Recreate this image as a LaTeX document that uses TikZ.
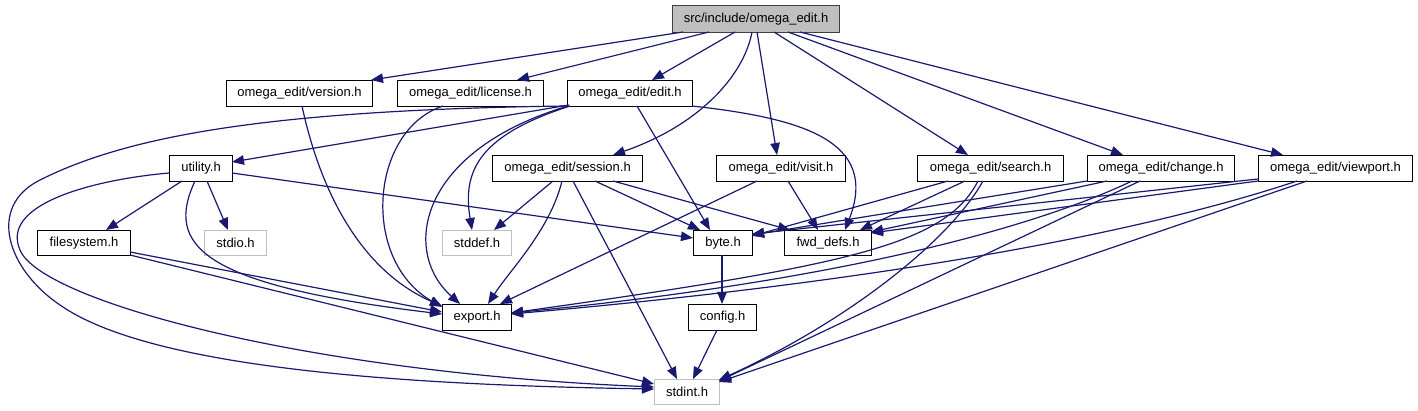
\documentclass[tikz,border=0pt]{standalone}
\usepackage{fontspec}
\setmainfont{Liberation Sans}
\usetikzlibrary{arrows.meta}
\definecolor{edgecol}{HTML}{191970}
\definecolor{topfill}{HTML}{BFBFBF}
\definecolor{greyline}{HTML}{BFBFBF}
\begin{document}
\begin{tikzpicture}[x=1pt,y=-1pt,
  box/.style={draw=black, line width=1.1pt, fill=white, inner sep=0pt, anchor=north west,
    font=\fontsize{13}{15}\selectfont},
  gbox/.style={box, draw=greyline},
  topbox/.style={box, draw=black!75, fill=topfill},
  edge/.style={draw=edgecol, line width=1.2pt, -{Triangle[length=12pt,width=9.5pt]}}]
\useasboundingbox (0,0) rectangle (1418,411);
% nodes
\node[topbox, minimum width=167pt, minimum height=27pt] (top) at (672,5) {src/include/omega\_edit.h};
\node[box, minimum width=146pt, minimum height=26pt] (ver) at (226,80) {omega\_edit/version.h};
\node[box, minimum width=146pt, minimum height=26pt] (lic) at (397,80) {omega\_edit/license.h};
\node[box, minimum width=125pt, minimum height=26pt] (edit) at (567,80) {omega\_edit/edit.h};
\node[box, minimum width=63pt, minimum height=26pt] (util) at (169,155) {utility.h};
\node[box, minimum width=150pt, minimum height=26pt] (sess) at (492,155) {omega\_edit/session.h};
\node[box, minimum width=129pt, minimum height=26pt] (visit) at (716,155) {omega\_edit/visit.h};
\node[box, minimum width=146pt, minimum height=26pt] (search) at (917,155) {omega\_edit/search.h};
\node[box, minimum width=147pt, minimum height=26pt] (change) at (1087,155) {omega\_edit/change.h};
\node[box, minimum width=154pt, minimum height=26pt] (view) at (1258,155) {omega\_edit/viewport.h};
\node[box, minimum width=93pt, minimum height=25pt] (fs) at (37,230) {filesystem.h};
\node[gbox, minimum width=62pt, minimum height=25pt] (stdio) at (204,230) {stdio.h};
\node[gbox, minimum width=69pt, minimum height=25pt] (stddef) at (442,230) {stddef.h};
\node[box, minimum width=59pt, minimum height=25pt] (byte) at (693,230) {byte.h};
\node[box, minimum width=87pt, minimum height=25pt] (fwd) at (784,230) {fwd\_defs.h};
\node[box, minimum width=69pt, minimum height=26pt] (export) at (442,304) {export.h};
\node[box, minimum width=68pt, minimum height=26pt] (config) at (688,304) {config.h};
\node[gbox, minimum width=65pt, minimum height=25pt] (stdint) at (654,379) {stdint.h};
% edges from top
\draw[edge] ([shift={(11,27)}]top.north west) -- ([shift={(145,0)}]ver.north west);
\draw[edge] ([shift={(37,27)}]top.north west) -- ([shift={(120,0)}]lic.north west);
\draw[edge] ([shift={(63,27)}]top.north west) -- ([shift={(85,0)}]edit.north west);
\draw[edge] ([shift={(80,27)}]top.north west) .. controls (744,75) and (700,125) .. ([shift={(121,0)}]sess.north west);
\draw[edge] ([shift={(85,27)}]top.north west) -- ([shift={(61,0)}]visit.north west);
\draw[edge] ([shift={(102,27)}]top.north west) -- ([shift={(51,0)}]search.north west);
\draw[edge] ([shift={(116,27)}]top.north west) -- ([shift={(36,0)}]change.north west);
\draw[edge] ([shift={(128,27)}]top.north west) -- ([shift={(25,0)}]view.north west);
% version, license
\draw[edge] ([shift={(76,26)}]ver.north west) .. controls (320,190) and (360,270) .. ([shift={(0,2)}]export.north west);
\draw[edge] ([shift={(46,26)}]lic.north west) .. controls (370,130) and (360,260) .. ([shift={(0,3)}]export.north west);
% edit
\draw[edge] ([shift={(2,25)}]edit.north west) -- ([shift={(63,7)}]util.north west);
\draw[edge] ([shift={(0,26)}]edit.north west) .. controls (250,110) and (120,140) .. (40,180)
   .. controls (-14,207) and (8,270) .. (60,305) .. controls (150,368) and (400,385) .. ([shift={(0,10)}]stdint.north west);
\draw[edge] ([shift={(1,26)}]edit.north west) .. controls (420,150) and (400,250) .. ([shift={(18,0)}]export.north west);
\draw[edge] ([shift={(3,26)}]edit.north west) .. controls (480,135) and (462,170) .. ([shift={(30,0)}]stddef.north west);
\draw[edge] ([shift={(70,26)}]edit.north west) -- ([shift={(17,0)}]byte.north west);
\draw[edge] ([shift={(125,26)}]edit.north west) .. controls (800,118) and (880,140) .. ([shift={(61,0)}]fwd.north west);
% utility
\draw[edge] ([shift={(13,26)}]util.north west) -- ([shift={(69,0)}]fs.north west);
\draw[edge] ([shift={(38,26)}]util.north west) -- ([shift={(24,0)}]stdio.north west);
\draw[edge] ([shift={(26,26)}]util.north west) .. controls (165,245) and (200,285) .. ([shift={(0,10)}]export.north west);
\draw[edge] ([shift={(0,18)}]util.north west) .. controls (90,180) and (0,205) .. (20,250)
   .. controls (40,300) and (300,372) .. ([shift={(0,8)}]stdint.north west);
\draw[edge] ([shift={(63,18)}]util.north west) -- ([shift={(0,8)}]byte.north west);
% filesystem
\draw[edge] ([shift={(93,22)}]fs.north west) -- ([shift={(0,8)}]export.north west);
\draw[edge] ([shift={(93,25)}]fs.north west) -- ([shift={(0,5)}]stdint.north west);
% session
\draw[edge] ([shift={(61,26)}]sess.north west) -- ([shift={(52,0)}]stddef.north west);
\draw[edge] ([shift={(70,26)}]sess.north west) .. controls (550,230) and (510,270) .. ([shift={(46,0)}]export.north west);
\draw[edge] ([shift={(81,26)}]sess.north west) -- ([shift={(23,0)}]stdint.north west);
\draw[edge] ([shift={(103,26)}]sess.north west) -- ([shift={(7,0)}]byte.north west);
\draw[edge] ([shift={(121,26)}]sess.north west) -- ([shift={(6,0)}]fwd.north west);
% visit
\draw[edge] ([shift={(41,26)}]visit.north west) -- ([shift={(58,0)}]export.north west);
\draw[edge] ([shift={(72,26)}]visit.north west) -- ([shift={(34,0)}]fwd.north west);
% search
\draw[edge] ([shift={(31,26)}]search.north west) -- ([shift={(59,6)}]byte.north west);
\draw[edge] ([shift={(48,26)}]search.north west) -- ([shift={(76,0)}]fwd.north west);
\draw[edge] ([shift={(61,26)}]search.north west) .. controls (945,245) and (850,265) .. ([shift={(69,9)}]export.north west);
\draw[edge] ([shift={(66,26)}]search.north west) .. controls (950,240) and (850,320) .. ([shift={(65,1)}]stdint.north west);
% change
\draw[edge] ([shift={(0,26)}]change.north west) -- ([shift={(59,5)}]byte.north west);
\draw[edge] ([shift={(20,26)}]change.north west) -- ([shift={(87,2)}]fwd.north west);
\draw[edge] ([shift={(45,26)}]change.north west) .. controls (1040,225) and (850,280) .. ([shift={(69,9)}]export.north west);
\draw[edge] ([shift={(53,26)}]change.north west) -- ([shift={(65,2)}]stdint.north west);
% viewport
\draw[edge] ([shift={(0,24)}]view.north west) -- ([shift={(59,4)}]byte.north west);
\draw[edge] ([shift={(0,26)}]view.north west) -- ([shift={(87,3)}]fwd.north west);
\draw[edge] ([shift={(39,26)}]view.north west) .. controls (1150,230) and (900,280) .. ([shift={(69,10)}]export.north west);
\draw[edge] ([shift={(49,26)}]view.north west) -- ([shift={(65,3)}]stdint.north west);
% byte, config
\draw[edge] ([shift={(29,25)}]byte.north west) -- ([shift={(34,0)}]config.north west);
\draw[edge] ([shift={(29,26)}]config.north west) -- ([shift={(39,0)}]stdint.north west);
\end{tikzpicture}
\end{document}
